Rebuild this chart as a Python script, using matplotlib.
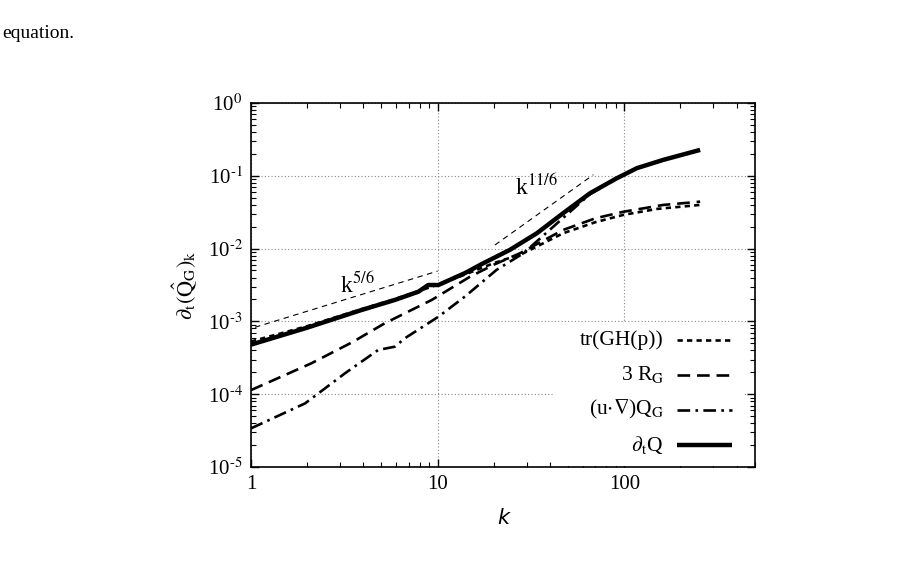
import numpy as np
import matplotlib
matplotlib.use("Agg")
import matplotlib.pyplot as plt
from matplotlib.patches import Rectangle
from matplotlib.lines import Line2D
from matplotlib.ticker import LogLocator, FixedLocator, FixedFormatter, NullFormatter

plt.rcParams['font.family'] = ['Liberation Serif', 'DejaVu Serif']
plt.rcParams['mathtext.fontset'] = 'stix'

# ---- data ----
k_dtQ = [1.0, 2.0, 3.9, 5.9, 7.9, 8.9, 10.1, 14.0, 17.6, 24.4, 34, 47, 65.6, 91, 117, 162, 255]
v_dtQ = [4.8e-4, 8.2e-4, 1.43e-3, 1.97e-3, 2.56e-3, 3.16e-3, 3.16e-3, 4.6e-3, 6.3e-3, 9.6e-3,
         1.62e-2, 3.05e-2, 5.75e-2, 9.2e-2, 0.127, 0.165, 0.226]

k_tr = [1.0, 2.0, 3.9, 5.9, 7.9, 10.0, 14.0, 20.0, 28.8, 47, 70, 99, 150, 255]
v_tr = [5.3e-4, 8.6e-4, 1.47e-3, 2.02e-3, 2.6e-3, 3.2e-3, 4.4e-3, 6.3e-3, 8.6e-3, 1.62e-2,
        2.3e-2, 2.9e-2, 3.5e-2, 3.97e-2]

k_3R = [1.0, 2.1, 3.5, 5.2, 9.3, 14.9, 20, 27.6, 47, 70, 99, 162, 255]
v_3R = [1.14e-4, 2.65e-4, 5.2e-4, 9.4e-4, 1.97e-3, 4.1e-3, 6.0e-3, 8.6e-3, 1.8e-2,
        2.6e-2, 3.2e-2, 3.97e-2, 4.4e-2]

k_adv = [1.0, 1.95, 3.19, 4.8, 5.9, 6.7, 10.1, 14.0, 20.7, 28.8, 43.5, 65.6, 91, 117, 162, 255]
v_adv = [3.4e-5, 7.5e-5, 1.94e-4, 4.05e-4, 4.5e-4, 5.9e-4, 1.16e-3, 2.19e-3, 5.1e-3, 8.6e-3,
         2.2e-2, 5.6e-2, 9.1e-2, 0.126, 0.164, 0.225]

k_fit1 = [1.05, 10.0]
v_fit1 = [8.3e-4, 4.9e-3]
k_fit2 = [20.3, 68.3]
v_fit2 = [1.12e-2, 0.103]

labels = ["tr(GH(p))", r"3 R$_\mathrm{G}$", r"(u$\cdot\nabla$)Q$_\mathrm{G}$", r"$\partial_\mathrm{t}$Q"]

x_ticks = [1, 10, 100]
x_ticklabels = ["1", "10", "100"]
y_ticks = [1e-5, 1e-4, 1e-3, 1e-2, 1e-1, 1e0]
y_ticklabels = [r"10$^{\text{-5}}$", r"10$^{\text{-4}}$", r"10$^{\text{-3}}$",
                r"10$^{\text{-2}}$", r"10$^{\text{-1}}$", r"10$^{\text{0}}$"]

# ---- figure ----
fig = plt.figure(figsize=(9.06, 5.81), dpi=100)
ax = fig.add_axes([0.277, 0.196, 0.556, 0.627])
ax.set_xscale('log')
ax.set_yscale('log')
ax.set_xlim(1, 500)
ax.set_ylim(1e-5, 1)

ax.xaxis.set_major_locator(FixedLocator(x_ticks))
ax.xaxis.set_major_formatter(FixedFormatter(x_ticklabels))
ax.xaxis.set_minor_locator(LogLocator(base=10, subs=np.arange(2, 10), numticks=20))
ax.xaxis.set_minor_formatter(NullFormatter())
ax.yaxis.set_major_locator(FixedLocator(y_ticks))
ax.yaxis.set_major_formatter(FixedFormatter(y_ticklabels))
ax.yaxis.set_minor_locator(LogLocator(base=10, subs=np.arange(2, 10), numticks=20))
ax.yaxis.set_minor_formatter(NullFormatter())

ax.tick_params(which='both', direction='in', top=True, right=True, labelsize=15, pad=6)
ax.tick_params(which='major', length=6, width=1.0)
ax.tick_params(which='minor', length=3.5, width=0.8)
for s in ax.spines.values():
    s.set_linewidth(1.2)

ax.grid(True, which='major', color='#888888', linestyle=(0, (1, 2)), linewidth=0.8)

lw = 1.9
st_tr = dict(color='black', lw=lw, dashes=(2.0, 1.6))
st_3R = dict(color='black', lw=lw, dashes=(4.8, 2.6))
st_adv = dict(color='black', lw=lw, dashes=(4.8, 2.0, 1.0, 2.0))
st_dt = dict(color='black', lw=3.2, solid_capstyle='butt')

ax.plot(k_tr, v_tr, **st_tr, zorder=3)
ax.plot(k_3R, v_3R, **st_3R, zorder=3)
ax.plot(k_adv, v_adv, **st_adv, zorder=3)
ax.plot(k_dtQ, v_dtQ, **st_dt, zorder=4)

ax.plot(k_fit1, v_fit1, color='black', lw=0.8, dashes=(5, 4), zorder=3)
ax.plot(k_fit2, v_fit2, color='black', lw=0.8, dashes=(5, 4), zorder=3)
ax.text(3.0, 2.45e-3, r"k$^{5/6}$", fontsize=17, ha='left', va='baseline')
ax.text(26.0, 5.4e-2, r"k$^{11/6}$", fontsize=17, ha='left', va='baseline')

# legend (drawn manually: right-aligned labels, samples on the right)
ax.add_patch(Rectangle((0.599, 0.003), 0.378, 0.395, transform=ax.transAxes,
                       facecolor='white', edgecolor='none', zorder=2.5))
styles = [st_tr, st_3R, st_adv, st_dt]
ys = [0.349, 0.253, 0.157, 0.061]
for lab, st, yy in zip(labels, styles, ys):
    ax.text(0.820, yy, lab, transform=ax.transAxes, ha='right', va='center', fontsize=15.5, zorder=5)
    ax.add_line(Line2D([0.846, 0.955], [yy, yy], transform=ax.transAxes, zorder=5, **st))

ax.set_xlabel("k", fontsize=15, family='DejaVu Sans', style='italic', labelpad=10)
ax.set_ylabel(r"$\partial_\mathrm{t}(\hat{\mathrm{Q}}_\mathrm{G})_\mathrm{k}$", fontsize=16, labelpad=6)

fig.text(0.003, 0.943, "equation.", fontsize=14, ha='left', va='center')

fig.savefig("out.png", dpi=100)
